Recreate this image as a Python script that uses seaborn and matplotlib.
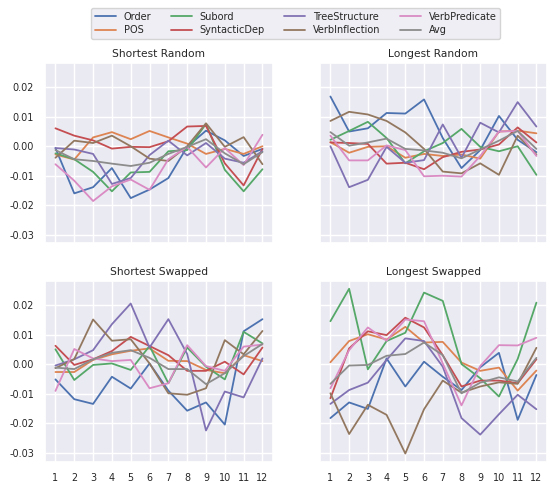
import numpy as np
import pandas as pd
import matplotlib
matplotlib.use("Agg")
import matplotlib.pyplot as plt
import seaborn as sns

layers = list(range(1, 13))
features = ["Order", "POS", "Subord", "SyntacticDep", "TreeStructure",
            "VerbInflection", "VerbPredicate", "Avg"]
panels = ["Shortest Random", "Longest Random", "Shortest Swapped", "Longest Swapped"]

shortest_random = {
    "Order":          [-0.0006, -0.0160, -0.0139, -0.0074, -0.0176, -0.0147, -0.0108, -0.0002, 0.0053, 0.0020, -0.0033, -0.0009],
    "POS":            [-0.0028, -0.0045, 0.0030, 0.0048, 0.0024, 0.0052, 0.0030, 0.0009, -0.0026, -0.0009, -0.0026, 0.0000],
    "Subord":         [-0.0024, -0.0044, -0.0087, -0.0153, -0.0089, -0.0087, -0.0017, -0.0013, 0.0076, -0.0080, -0.0153, -0.0078],
    "SyntacticDep":   [0.0061, 0.0036, 0.0020, -0.0008, -0.0002, -0.0003, 0.0017, 0.0067, 0.0069, -0.0058, -0.0133, -0.0009],
    "TreeStructure":  [-0.0006, -0.0011, -0.0026, -0.0128, -0.0108, -0.0030, 0.0019, -0.0031, 0.0011, -0.0042, -0.0056, -0.0017],
    "VerbInflection": [-0.0039, 0.0019, 0.0011, 0.0036, 0.0000, -0.0042, -0.0050, 0.0000, 0.0078, -0.0002, 0.0031, -0.0061],
    "VerbPredicate":  [-0.0061, -0.0117, -0.0186, -0.0136, -0.0113, -0.0148, -0.0044, -0.0002, -0.0072, -0.0006, -0.0064, 0.0039],
    "Avg":            [-0.0013, -0.0044, -0.0050, -0.0059, -0.0067, -0.0056, -0.0026, -0.0002, 0.0024, -0.0024, -0.0061, -0.0020],
}
longest_random = {
    "Order":          [0.0169, 0.0050, 0.0061, 0.0113, 0.0111, 0.0159, 0.0028, -0.0074, -0.0013, 0.0103, 0.0022, -0.0020],
    "POS":            [0.0014, -0.0022, -0.0002, 0.0000, -0.0039, -0.0026, -0.0033, -0.0028, -0.0042, 0.0050, 0.0053, 0.0044],
    "Subord":         [0.0022, 0.0052, 0.0083, 0.0028, -0.0058, -0.0017, 0.0011, 0.0059, -0.0002, -0.0017, 0.0000, -0.0097],
    "SyntacticDep":   [0.0013, 0.0011, 0.0008, -0.0059, -0.0056, -0.0078, -0.0037, -0.0019, -0.0011, 0.0006, 0.0064, 0.0013],
    "TreeStructure":  [0.0000, -0.0139, -0.0114, -0.0002, -0.0056, -0.0047, 0.0074, -0.0039, 0.0080, 0.0047, 0.0150, 0.0067],
    "VerbInflection": [0.0086, 0.0117, 0.0108, 0.0086, 0.0047, -0.0009, -0.0086, -0.0092, -0.0058, -0.0097, 0.0036, -0.0028],
    "VerbPredicate":  [0.0036, -0.0048, -0.0048, 0.0003, -0.0013, -0.0102, -0.0100, -0.0103, -0.0033, 0.0050, 0.0052, -0.0033],
    "Avg":            [0.0048, 0.0002, 0.0013, 0.0026, -0.0009, -0.0014, -0.0022, -0.0041, -0.0011, 0.0019, 0.0052, -0.0009],
}
shortest_swapped = {
    "Order":          [-0.0051, -0.0118, -0.0134, -0.0042, -0.0082, 0.0003, -0.0089, -0.0157, -0.0129, -0.0204, 0.0112, 0.0153],
    "POS":            [-0.0026, -0.0026, 0.0015, 0.0034, 0.0046, 0.0054, 0.0012, 0.0011, -0.0019, -0.0030, 0.0031, 0.0011],
    "Subord":         [0.0051, -0.0053, -0.0002, 0.0003, -0.0019, 0.0062, -0.0064, 0.0057, -0.0008, -0.0051, 0.0110, 0.0071],
    "SyntacticDep":   [0.0063, -0.0002, 0.0017, 0.0045, 0.0093, 0.0062, 0.0031, -0.0022, -0.0022, 0.0009, -0.0034, 0.0057],
    "TreeStructure":  [-0.0004, 0.0017, 0.0048, 0.0136, 0.0206, 0.0057, 0.0153, 0.0035, -0.0224, -0.0092, -0.0112, 0.0020],
    "VerbInflection": [-0.0013, 0.0018, 0.0152, 0.0080, 0.0085, 0.0003, -0.0098, -0.0103, -0.0081, 0.0082, 0.0034, 0.0113],
    "VerbPredicate":  [-0.0090, 0.0052, 0.0020, 0.0011, 0.0015, -0.0081, -0.0064, 0.0065, -0.0006, -0.0022, 0.0060, 0.0067],
    "Avg":            [-0.0011, -0.0016, 0.0017, 0.0039, 0.0048, 0.0022, -0.0016, -0.0016, -0.0067, -0.0030, 0.0028, 0.0069],
}
longest_swapped = {
    "Order":          [-0.0182, -0.0129, -0.0151, 0.0020, -0.0075, 0.0009, -0.0042, -0.0087, -0.0010, 0.0039, -0.0188, -0.0036],
    "POS":            [0.0007, 0.0079, 0.0102, 0.0084, 0.0127, 0.0074, 0.0076, 0.0006, -0.0022, -0.0011, -0.0089, -0.0021],
    "Subord":         [0.0146, 0.0256, -0.0017, 0.0079, 0.0107, 0.0243, 0.0215, 0.0001, -0.0047, -0.0109, 0.0018, 0.0209],
    "SyntacticDep":   [-0.0115, 0.0054, 0.0112, 0.0099, 0.0158, 0.0125, 0.0031, -0.0075, -0.0055, -0.0055, -0.0064, 0.0017],
    "TreeStructure":  [-0.0134, -0.0087, -0.0062, 0.0015, 0.0088, 0.0079, -0.0008, -0.0182, -0.0238, -0.0169, -0.0103, -0.0152],
    "VerbInflection": [-0.0098, -0.0236, -0.0137, -0.0171, -0.0302, -0.0152, -0.0055, -0.0096, -0.0075, -0.0061, -0.0066, 0.0056],
    "VerbPredicate":  [-0.0081, 0.0048, 0.0125, 0.0080, 0.0152, 0.0146, 0.0003, -0.0139, -0.0006, 0.0065, 0.0064, 0.0090],
    "Avg":            [-0.0066, -0.0004, -0.0002, 0.0029, 0.0035, 0.0074, 0.0031, -0.0098, -0.0062, -0.0044, -0.0058, 0.0022],
}
panel_data = [shortest_random, longest_random, shortest_swapped, longest_swapped]

sns.set_theme(style="darkgrid", palette="deep")
plt.rcParams["font.family"] = ["DejaVu Sans"]

fig = plt.figure(figsize=(5.5, 4.82), dpi=100)
boxes = [
    (0.082, 0.495, 0.414, 0.375),
    (0.582, 0.495, 0.412, 0.375),
    (0.082, 0.042, 0.414, 0.376),
    (0.582, 0.042, 0.412, 0.376),
]
axes = []
for i, b in enumerate(boxes):
    kw = {}
    if i > 0:
        kw["sharey"] = axes[0]
        kw["sharex"] = axes[0]
    axes.append(fig.add_axes(b, **kw))

palette = sns.color_palette("deep", len(features))
for ax, title, data in zip(axes, panels, panel_data):
    df = pd.DataFrame({"layer": np.tile(layers, len(features)),
                       "feature": np.repeat(features, len(layers)),
                       "value": np.concatenate([data[f] for f in features])})
    sns.lineplot(data=df, x="layer", y="value", hue="feature",
                 hue_order=features, palette=palette, ax=ax, linewidth=1.3)
    ax.set_title(title, fontsize=7.7, pad=4)
    ax.set_xlabel("")
    ax.set_ylabel("")
    ax.set_xticks(layers)
    ax.set_yticks([-0.03, -0.02, -0.01, 0.0, 0.01, 0.02])
    ax.tick_params(labelsize=6.9, pad=2)
    handles, labels = ax.get_legend_handles_labels()
    ax.get_legend().remove()

for ax in axes[:2]:
    ax.tick_params(labelbottom=False)
for ax in (axes[1], axes[3]):
    ax.tick_params(labelleft=False)
axes[0].yaxis.set_major_formatter(matplotlib.ticker.FormatStrFormatter("%.2f"))

for h in handles:
    h.set_linewidth(1.3)
fig.legend(handles, labels, loc="upper center", ncol=4, fontsize=7.0,
           bbox_to_anchor=(0.538, 0.994), handlelength=2.15, columnspacing=2.0,
           handletextpad=0.8, borderpad=0.4, labelspacing=0.35)

fig.savefig("out.png", dpi=100)
